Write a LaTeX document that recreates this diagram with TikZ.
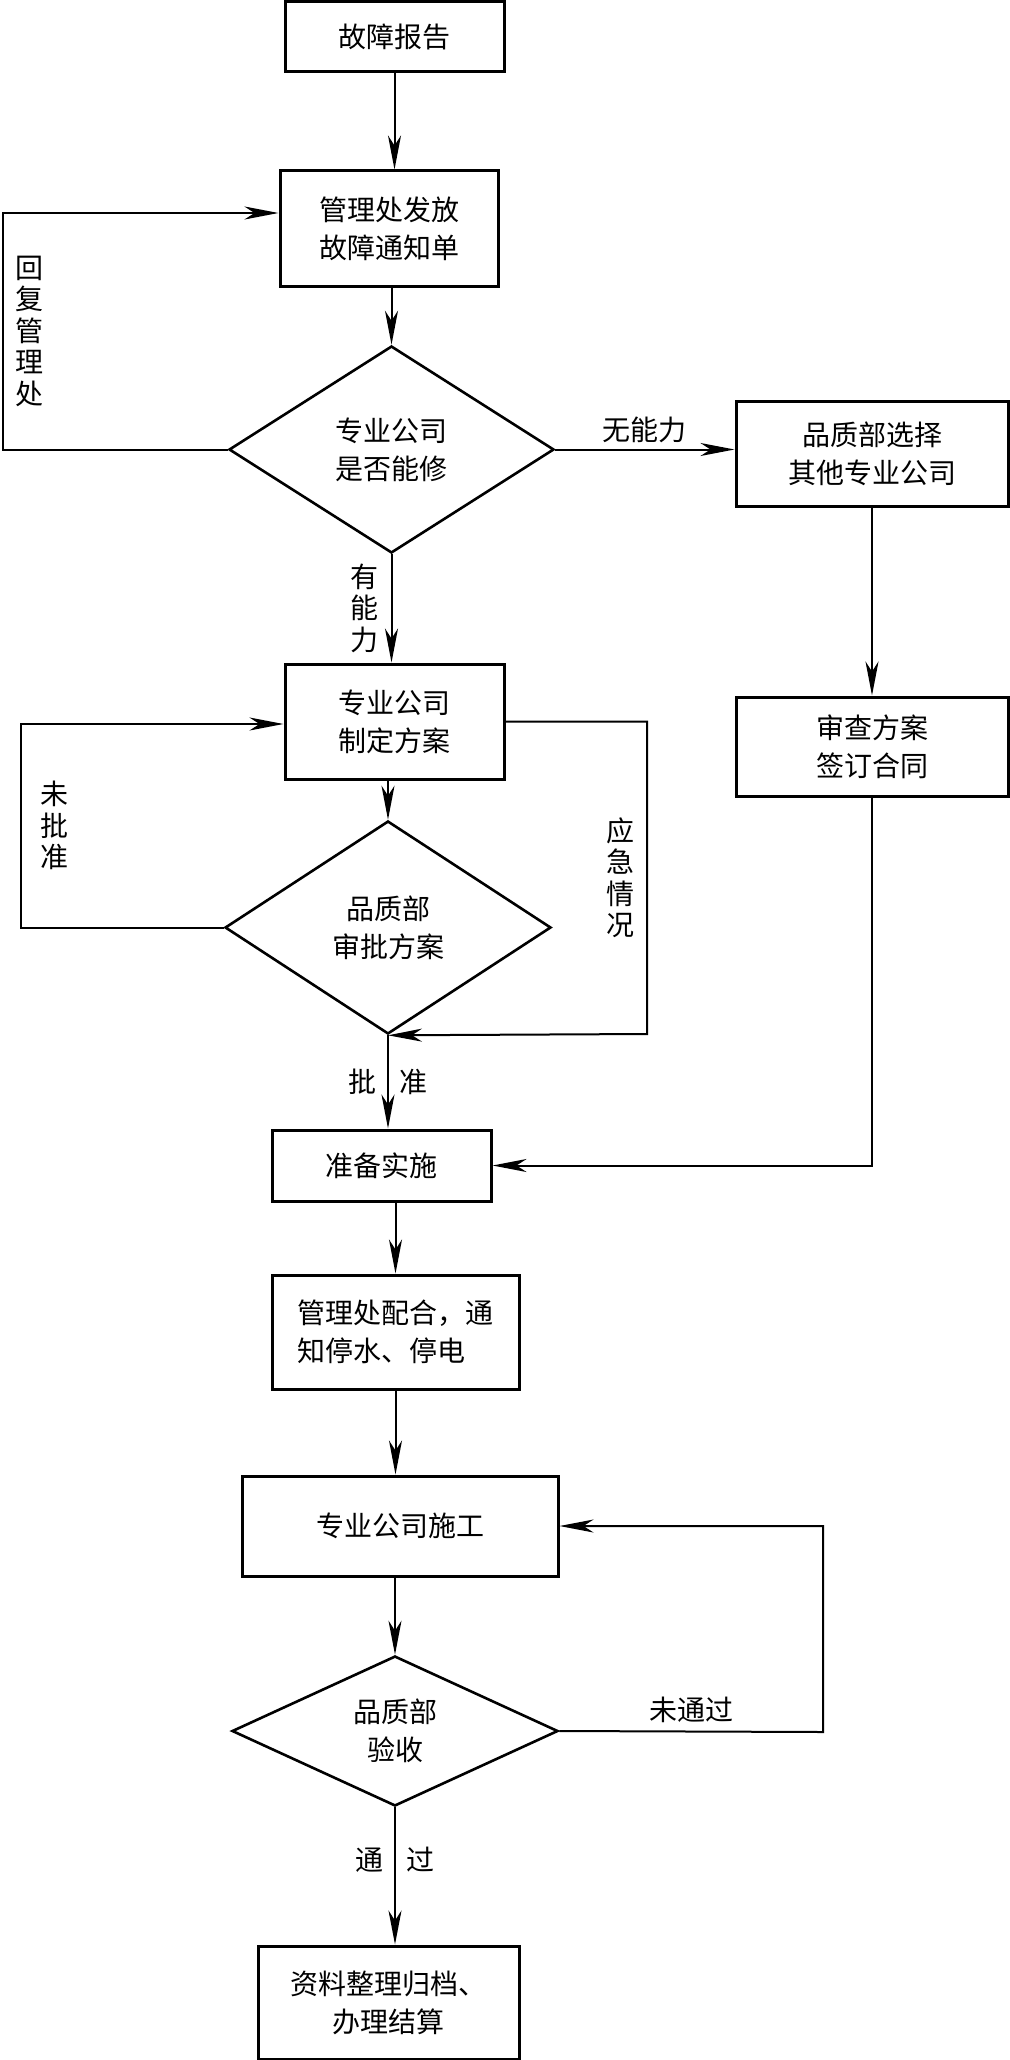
\documentclass[tikz,border=0pt]{standalone}
\usepackage{fontspec}
\newfontfamily\cjk{Noto Sans CJK SC}
\usetikzlibrary{
  arrows.meta,
  positioning,
  shapes.geometric
}

\begin{document}
\begin{tikzpicture}[
  x=0.5pt, y=-0.5pt,
  font=\cjk\fontsize{14}{19}\selectfont,
  module/.style={
    draw,
    line width=1.5pt,
    inner sep=0pt,
    align=center
  },
  decision/.style={
    diamond,
    draw,
    line width=1.3pt,
    inner sep=0pt,
    align=center
  },
  flow/.style={
    -{Stealth[length=17pt,width=6.5pt,inset=5pt]},
    line width=1pt
  },
  sublabel/.style={
    inner sep=0pt,
    font=\cjk\fontsize{14}{15.75}\selectfont
  },
  vlabel/.style={
    sublabel,
    align=center
  }
]

\useasboundingbox (0,0) rectangle (1010,2060);

% Main column
\node[module, minimum width=109.5pt, minimum height=35pt] (report) at (394.5,37) {故障报告};
\node[module, minimum width=109pt, minimum height=57.5pt] (notice) at (389,228.5) {管理处发放\\故障通知单};
\node[decision, minimum width=162.5pt, minimum height=103.5pt] (canfix) at (391.5,449.5) {专业公司\\是否能修};
\node[module, minimum width=109.5pt, minimum height=57.5pt] (plan) at (394.5,721.5) {专业公司\\制定方案};
\node[decision, minimum width=163pt, minimum height=106.5pt] (approve) at (388,927.5) {品质部\\审批方案};
\node[module, minimum width=109.5pt, minimum height=35.5pt] (prep) at (381.5,1165.5) {准备实施};
\node[module, minimum width=123.5pt, minimum height=57pt, align=left] (coop) at (395.5,1332) {管理处配合，通\\知停水、停电};
\node[module, minimum width=158pt, minimum height=50pt] (build) at (400,1526) {专业公司施工};
\node[decision, minimum width=163pt, minimum height=75pt] (accept) at (395,1731) {品质部\\验收};
\node[module, minimum width=130.5pt, minimum height=56.5pt] (archive) at (388.5,2002.5) {资料整理归档、\\办理结算};

% Right column
\node[module, minimum width=136pt, minimum height=52.5pt] (other) at (872,453.5) {品质部选择\\其他专业公司};
\node[module, minimum width=136pt, minimum height=49.5pt] (review) at (872,746.5) {审查方案\\签订合同};

% Loop corners
\coordinate (replyturn) at (3,213);
\coordinate (rejectturn) at (21,724);
\coordinate (emergturn) at (647,1034);
\coordinate (failturn) at (823,1732);

% Main flow
\draw[flow] (report.south) -- (report.south |- notice.north);
\draw[flow] (canfix.north |- notice.south) -- (canfix.north);
\draw[flow] (canfix.south) -- node[vlabel, left=6pt] {有\\能\\力} (canfix.south |- plan.north);
\draw[flow] (approve.north |- plan.south) -- (approve.north);
\draw[flow] (approve.south) -- node[sublabel] {批\hspace{11.5pt}准} (approve.south |- prep.north);
\draw[flow] (coop.north |- prep.south) -- (coop.north);
\draw[flow] (coop.south) -- (coop.south |- build.north);
\draw[flow] (accept.north |- build.south) -- (accept.north);
\draw[flow] (accept.south) -- node[pos=0.38, sublabel] {通\hspace{11.5pt}过} (accept.south |- archive.north);

% Other company branch
\draw[flow] (canfix.east) -- node[sublabel, above=3pt] {无能力} (canfix.east -| other.west);
\draw[flow] (other.south) -- (review.north);
\draw[flow] (review.south) |- (prep.east);

% Feedback loops
\draw[flow] (canfix.west) -| node[pos=0.75, vlabel, right=6pt] {回\\复\\管\\理\\处} (replyturn) -- (replyturn -| notice.west);
\draw[flow] (approve.west) -| node[pos=0.75, vlabel, right=9pt] {未\\批\\准} (rejectturn) -- (rejectturn -| plan.west);
\draw[flow] (plan.east) -| node[pos=0.75, vlabel, left=6pt] {应\\急\\情\\况} (emergturn) -- (approve.south);
\draw[flow] (accept.east) -- node[sublabel, above=4pt] {未通过} (failturn) |- (build.east);

\end{tikzpicture}
\end{document}
